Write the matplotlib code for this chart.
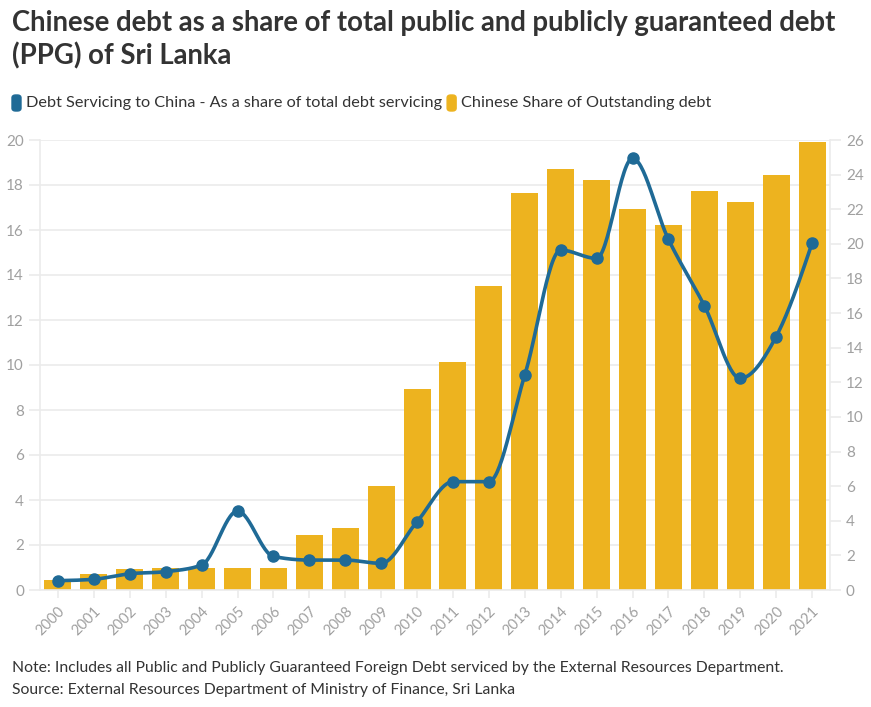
import numpy as np
import matplotlib
matplotlib.use("Agg")
import matplotlib.pyplot as plt
from matplotlib.patches import FancyBboxPatch

plt.rcParams["font.family"] = ["Lato", "DejaVu Sans"]

# ── Data ─────────────────────────────────────────────────────────────────────
years = [str(y) for y in range(2000, 2022)]
outstanding_share = [0.44, 0.72, 0.92, 1.0, 1.0, 1.0, 1.0, 2.43, 2.74, 4.62,
                     8.93, 10.13, 13.53, 17.63, 18.71, 18.22, 16.92, 16.22,
                     17.72, 17.23, 18.43, 19.9]
servicing_share = [0.54, 0.62, 0.94, 1.06, 1.44, 4.56, 1.94, 1.73, 1.73, 1.54,
                   3.95, 6.26, 6.26, 12.42, 19.64, 19.16, 24.94, 20.26, 16.43,
                   12.23, 14.64, 20.03]

TITLE = "Chinese debt as a share of total public and publicly guaranteed debt\n(PPG) of Sri Lanka"
LEG_LINE = "Debt Servicing to China - As a share of total debt servicing"
LEG_BAR = "Chinese Share of Outstanding debt"
NOTE = ("Note: Includes all Public and Publicly Guaranteed Foreign Debt serviced by the External Resources Department.\n"
        "Source: External Resources Department of Ministry of Finance, Sri Lanka")

BLUE = "#1f6a96"
GOLD = "#edb31f"
GRID = "#ebebeb"
TICK = "#a0a0a0"
DARK = "#333333"


def monotone_curve(x, y, n=30):
    """Monotone cubic (d3 curveMonotoneX style) for drawing the smooth line."""
    x = np.asarray(x, float)
    y = np.asarray(y, float)
    h = np.diff(x)
    s = np.diff(y) / h
    m = np.zeros_like(y)
    for i in range(1, len(y) - 1):
        s0, s1 = s[i - 1], s[i]
        p = (s0 * h[i] + s1 * h[i - 1]) / (h[i - 1] + h[i])
        m[i] = (np.sign(s0) + np.sign(s1)) * min(abs(s0), abs(s1), 0.5 * abs(p))
    m[0] = (3 * s[0] - m[1]) / 2
    m[-1] = (3 * s[-1] - m[-2]) / 2
    xs, ys = [], []
    for i in range(len(h)):
        t = np.linspace(0, 1, n, endpoint=(i == len(h) - 1))
        h00 = 2 * t**3 - 3 * t**2 + 1
        h10 = t**3 - 2 * t**2 + t
        h01 = -2 * t**3 + 3 * t**2
        h11 = t**3 - t**2
        xs.append(x[i] + t * h[i])
        ys.append(h00 * y[i] + h10 * h[i] * m[i] + h01 * y[i + 1] + h11 * h[i] * m[i + 1])
    return np.concatenate(xs), np.concatenate(ys)


fig = plt.figure(figsize=(8.71, 7.07), dpi=100)
W, H = 871, 707
ax = fig.add_axes([40 / W, (H - 590) / H, 790 / W, 450 / H])
ax2 = ax.twinx()

xpos = np.arange(len(years))
ax.bar(xpos, outstanding_share, width=0.75, color=GOLD, zorder=2)
ax.set_ylim(0, 20)
ax.set_yticks(np.arange(0, 21, 2))
ax.set_xlim(-0.5, len(years) - 0.5)
ax.grid(axis="y", color=GRID, lw=1.2, zorder=0)
ax.set_axisbelow(True)

cx, cy = monotone_curve(xpos, servicing_share)
ax2.plot(cx, cy, color=BLUE, lw=2.6, zorder=3)
ax2.plot(xpos, servicing_share, "o", color=BLUE, ms=8, zorder=4)
ax2.set_ylim(0, 26)
ax2.set_yticks(np.arange(0, 27, 2))

ax.set_xticks(xpos)
ax.set_xticklabels(years, rotation=45, ha="right", va="top", rotation_mode="anchor")

for a in (ax, ax2):
    for sp in a.spines.values():
        sp.set_visible(False)
    a.tick_params(colors=GRID, labelcolor=TICK, labelsize=11, length=8, width=1.2)
ax.tick_params(axis="x", length=6, pad=4, labelsize=10.5)
ax.spines["left"].set_visible(True)
ax.spines["left"].set_color(GRID)
ax.spines["left"].set_linewidth(1.2)
ax2.spines["right"].set_visible(True)
ax2.spines["right"].set_color(GRID)
ax2.spines["right"].set_linewidth(1.2)
ax.spines["bottom"].set_visible(True)
ax.spines["bottom"].set_color(GRID)
ax.spines["bottom"].set_linewidth(1.2)

# ── Title, legend, footer ────────────────────────────────────────────────────
fig.text(12 / W, 1 - 10 / H, TITLE, fontsize=19.8, fontweight="bold", color=DARK,
         va="top", ha="left", linespacing=1.3)

leg_y = 1 - 103 / H
fig.canvas.draw()
renderer = fig.canvas.get_renderer()
x0 = 12
for label, col in [(LEG_LINE, BLUE), (LEG_BAR, GOLD)]:
    fig.patches.append(FancyBboxPatch((x0 / W, leg_y - 8 / H), 9 / W, 16 / H,
                                      boxstyle="round,pad=0,rounding_size=0.004",
                                      transform=fig.transFigure, color=col))
    t = fig.text((x0 + 14) / W, leg_y, label, fontsize=11.7, color=DARK,
                 va="center", ha="left")
    bb = t.get_window_extent(renderer)
    x0 = bb.x1 + 5

fig.text(12 / W, 1 - 661 / H, NOTE, fontsize=11.3, color=DARK, va="top",
         ha="left", linespacing=1.75)

fig.savefig("out.png", dpi=100)
